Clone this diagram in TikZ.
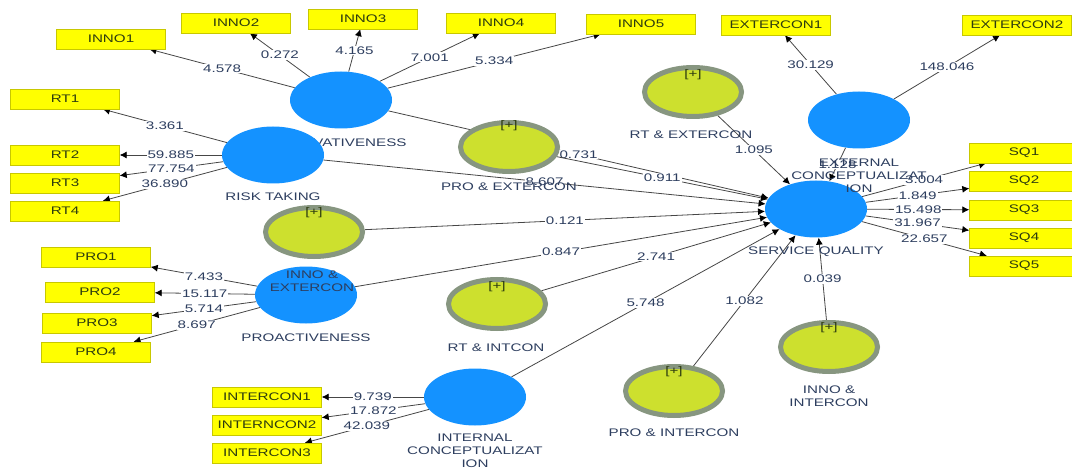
\documentclass[tikz,border=0pt]{standalone}
\usepackage{fontspec}
\setmainfont[FakeStretch=1.38]{Liberation Sans}
\usetikzlibrary{shapes.geometric,arrows.meta,backgrounds}

\definecolor{azul}{RGB}{20,146,255}
\definecolor{lima}{RGB}{205,224,46}
\definecolor{anillo}{RGB}{135,150,128}
\definecolor{amarillo}{RGB}{255,255,0}
\definecolor{borde}{RGB}{200,200,0}
\definecolor{texto}{RGB}{45,62,95}
\definecolor{textoind}{RGB}{45,60,15}
\definecolor{linea}{RGB}{70,70,70}

\tikzset{
	latente/.style={ellipse, fill=azul, minimum width=102pt, minimum height=57pt, inner sep=0pt},
	moderador/.style={ellipse, draw=anillo, line width=5pt, fill=lima, minimum width=97pt, minimum height=49pt, inner sep=0pt},
	indicador/.style={rectangle, draw=borde, fill=amarillo, minimum width=109pt, minimum height=20pt, inner sep=0pt, text=textoind},
	nombre/.style={text=texto, align=center, inner sep=0pt},
	mas/.style={text=textoind, inner sep=0pt},
	carga/.style={draw=linea, line width=0.8pt, -{Latex[length=7pt,width=7pt,color=black]}},
	valor/.style={midway, fill=white, text=texto, inner sep=1pt}
}

\begin{document}
\begin{tikzpicture}[x=1pt,y=-1pt,font=\fontsize{11}{13}\selectfont]
	\useasboundingbox (0,0) rectangle (1072,468);
	
	% Indicadores
	\node[indicador] (inno1) at (111,39) {INNO1};
	\node[indicador] (inno2) at (236,23) {INNO2};
	\node[indicador] (inno3) at (363,19) {INNO3};
	\node[indicador] (inno4) at (501,23) {INNO4};
	\node[indicador] (inno5) at (641,24) {INNO5};
	\node[indicador] (ext1) at (776,25) {EXTERCON1};
	\node[indicador] (ext2) at (1017,25) {EXTERCON2};
	\node[indicador] (rt1) at (65,99) {RT1};
	\node[indicador] (rt2) at (65,155) {RT2};
	\node[indicador] (rt3) at (65,183) {RT3};
	\node[indicador] (rt4) at (65,211) {RT4};
	\node[indicador] (pro1) at (96,257) {PRO1};
	\node[indicador] (pro2) at (100,292) {PRO2};
	\node[indicador] (pro3) at (97,323) {PRO3};
	\node[indicador] (pro4) at (96,352) {PRO4};
	\node[indicador] (int1) at (267,397) {INTERCON1};
	\node[indicador] (int2) at (267,425) {INTERNCON2};
	\node[indicador] (int3) at (267,453) {INTERCON3};
	\node[indicador] (sq1) at (1024,153) {SQ1};
	\node[indicador] (sq2) at (1024,181) {SQ2};
	\node[indicador] (sq3) at (1024,210) {SQ3};
	\node[indicador] (sq4) at (1024,238) {SQ4};
	\node[indicador] (sq5) at (1024,266) {SQ5};
	
	% Constructos
	\node[latente] (inno) at (341,100) {};
	\node[nombre] at (341,143) {INNOVATIVENESS};
	\node[latente] (rt) at (273,155) {};
	\node[nombre] at (273,197) {RISK TAKING};
	\node[latente] (pro) at (306,295) {};
	\node[nombre] at (306,338) {PROACTIVENESS};
	\node[latente] (intcon) at (475,397) {};
	\node[nombre] at (475,451) {INTERNAL\\CONCEPTUALIZAT\\ION};
	\node[latente] (sq) at (816,209) {};
	\node[nombre] at (816,252) {SERVICE QUALITY};
	\node[latente] (extcon) at (859,120) {};
	\node[nombre] at (859,176) {EXTERNAL\\CONCEPTUALIZAT\\ION};
	
	% Efectos moderadores
	\node[moderador] (proext) at (509,147) {};
	\node[mas] at (509,126) {[+]};
	\node[nombre] at (509,187) {PRO \& EXTERCON};
	\node[moderador] (rtext) at (693,92) {};
	\node[mas] at (693,75) {[+]};
	\node[nombre] at (691,135) {RT \& EXTERCON};
	\node[moderador] (innoext) at (314,232) {};
	\node[mas] at (314,213) {[+]};
	\node[nombre] at (312,281) {INNO \&\\EXTERCON};
	\node[moderador] (rtint) at (497,304) {};
	\node[mas] at (497,287) {[+]};
	\node[nombre] at (496,348) {RT \& INTCON};
	\node[moderador] (proint) at (674,391) {};
	\node[mas] at (674,372) {[+]};
	\node[nombre] at (674,433) {PRO \& INTERCON};
	\node[moderador] (innoint) at (829,347) {};
	\node[mas] at (829,328) {[+]};
	\node[nombre] at (829,396) {INNO \&\\INTERCON};
	
	\begin{pgfonlayer}{background}
		% Cargas externas
		\draw[carga] (inno) -- node[valor] {4.578} (inno1);
		\draw[carga] (inno) -- node[valor] {0.272} (inno2);
		\draw[carga] (inno) -- node[valor] {4.165} (inno3);
		\draw[carga] (inno) -- node[valor] {7.001} (inno4);
		\draw[carga] (inno) -- node[valor] {5.334} (inno5);
		\draw[carga] (rt) -- node[valor] {3.361} (rt1);
		\draw[carga] (rt) -- node[valor] {59.885} (rt2);
		\draw[carga] (rt) -- node[valor] {77.754} (rt3);
		\draw[carga] (rt) -- node[valor] {36.890} (rt4);
		\draw[carga] (pro) -- node[valor] {7.433} (pro1);
		\draw[carga] (pro) -- node[valor] {15.117} (pro2);
		\draw[carga] (pro) -- node[valor] {5.714} (pro3);
		\draw[carga] (pro) -- node[valor] {8.697} (pro4);
		\draw[carga] (intcon) -- node[valor] {9.739} (int1);
		\draw[carga] (intcon) -- node[valor] {17.872} (int2);
		\draw[carga] (intcon) -- node[valor] {42.039} (int3);
		\draw[carga] (extcon) -- node[valor] {30.129} (ext1);
		\draw[carga] (extcon) -- node[valor] {148.046} (ext2);
		\draw[carga] (sq) -- node[valor] {3.004} (sq1);
		\draw[carga] (sq) -- node[valor] {1.849} (sq2);
		\draw[carga] (sq) -- node[valor] {15.498} (sq3);
		\draw[carga] (sq) -- node[valor] {31.967} (sq4);
		\draw[carga] (sq) -- node[valor] {22.657} (sq5);
		
		% Caminos estructurales hacia SERVICE QUALITY
		\draw[carga] (inno) -- node[valor] {0.731} (sq);
		\draw[carga] (proext) -- node[valor] {0.911} (sq);
		\draw[carga] (rt) -- node[valor] {8.607} (sq);
		\draw[carga] (innoext) -- node[valor] {0.121} (sq);
		\draw[carga] (pro) -- node[valor] {0.847} (sq);
		\draw[carga] (rtint) -- node[valor] {2.741} (sq);
		\draw[carga] (intcon) -- node[valor] {5.748} (sq);
		\draw[carga] (proint) -- node[valor] {1.082} (sq);
		\draw[carga] (innoint) -- node[valor] {0.039} (sq);
		\draw[carga] (rtext) -- node[valor] {1.095} (sq);
		\draw[carga] (extcon) -- node[valor] {1.128} (sq);
	\end{pgfonlayer}
\end{tikzpicture}
\end{document}
